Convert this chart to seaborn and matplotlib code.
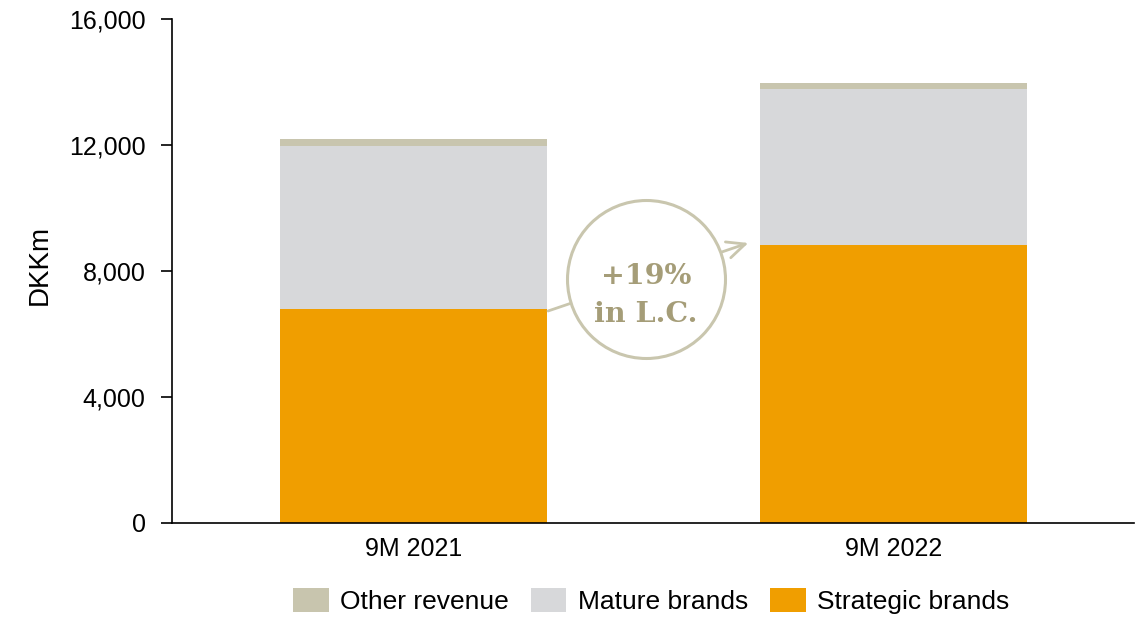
import matplotlib
matplotlib.use("Agg")
import matplotlib.pyplot as plt
import seaborn as sns
import pandas as pd
import numpy as np
from matplotlib.patches import Patch

categories = ["9M 2021", "9M 2022"]
strategic = [6800, 8840]
mature = [5170, 4940]
other = [210, 190]
series_names = ["Other revenue", "Mature brands", "Strategic brands"]
colors = {"Strategic brands": "#F09E00", "Mature brands": "#D7D8DA", "Other revenue": "#C8C5AE"}

sns.set_theme(style="white")
plt.rcParams["font.family"] = ["Liberation Sans", "DejaVu Sans"]
plt.rcParams["text.color"] = "black"
plt.rcParams["axes.labelcolor"] = "black"
plt.rcParams["xtick.color"] = "black"
plt.rcParams["ytick.color"] = "black"

fig = plt.figure(figsize=(11.36, 6.19), dpi=100)
ax = fig.add_axes([172/1136, 96/619, 962/1136, 504/619])

s = np.array(strategic)
m = np.array(mature)
o = np.array(other)
df = pd.DataFrame({"cat": categories, "total": s + m + o, "sm": s + m, "s": s})

w = 0.556
sns.barplot(data=df, x="cat", y="total", color=colors["Other revenue"], width=w, saturation=1, ax=ax, linewidth=0)
sns.barplot(data=df, x="cat", y="sm", color=colors["Mature brands"], width=w, saturation=1, ax=ax, linewidth=0)
sns.barplot(data=df, x="cat", y="s", color=colors["Strategic brands"], width=w, saturation=1, ax=ax, linewidth=0)

ax.set_xlim(-0.503, 1.5)
ax.set_ylim(0, 16000)
ax.set_yticks([0, 4000, 8000, 12000, 16000])
ax.set_yticklabels(["0", "4,000", "8,000", "12,000", "16,000"])
ax.set_xlabel("")
ax.set_ylabel("DKKm", fontsize=20)
ax.yaxis.set_label_coords(-0.1237, 0.512)
ax.tick_params(axis="y", length=8, width=1.2, labelsize=18, pad=11, direction="out", left=True)
ax.tick_params(axis="x", length=0, labelsize=18, pad=10)
for sp in ["top", "right"]:
    ax.spines[sp].set_visible(False)
for sp in ["left", "bottom"]:
    ax.spines[sp].set_color("black")
    ax.spines[sp].set_linewidth(1.2)

# growth annotation
ann_color = "#C9C6AE"
ax.annotate("", xy=(0.697, 8890), xytext=(0.280, 6730),
            arrowprops=dict(arrowstyle="->,head_length=1.3,head_width=0.6", color=ann_color, lw=2.0,
                            shrinkA=0, shrinkB=0, mutation_scale=10),
            zorder=5)
d = 2 * 79 * 72 / 100
ax.scatter([0.484], [7746], s=d**2, facecolor="white", edgecolor=ann_color, linewidth=2.2, zorder=6)
ax.text(0.484, 7587, "+19%", ha="center", va="baseline", fontsize=20.5, fontweight="bold",
        family=["DejaVu Serif"], color="#A59D78", zorder=7)
ax.text(0.484, 6381, "in L.C.", ha="center", va="baseline", fontsize=20.5, fontweight="bold",
        family=["DejaVu Serif"], color="#A59D78", zorder=7)

handles = [Patch(facecolor=colors[n], edgecolor="none") for n in series_names]
fig.legend(handles, series_names, loc="center", bbox_to_anchor=(0.573, 0.029), ncol=3, frameon=False,
           fontsize=19, handlelength=1.36, handleheight=1.02, handletextpad=0.42, columnspacing=0.83,
           borderpad=0, borderaxespad=0)

fig.savefig("out.png", dpi=100)
